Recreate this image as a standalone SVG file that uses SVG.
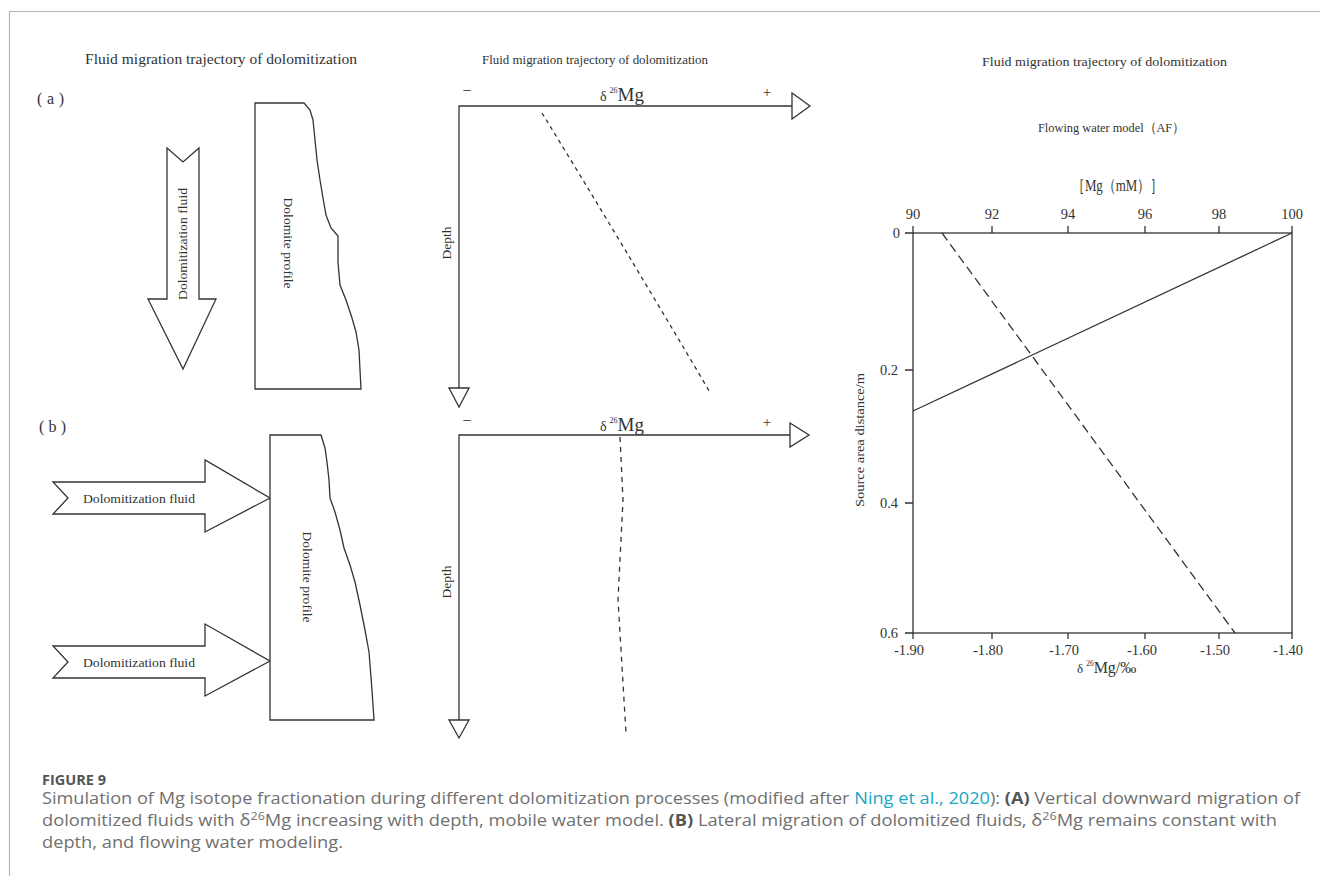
<svg xmlns="http://www.w3.org/2000/svg" width="1320" height="876" viewBox="0 0 1320 876">
<style>
.ln{fill:none;stroke:#333;stroke-width:1.3}
.sh{fill:#fff;stroke:#333;stroke-width:1.3;stroke-linejoin:miter}
.t{font-family:"Liberation Serif","Times New Roman",serif;fill:#333}
.cap{font-family:"Open Sans","Noto Sans",sans-serif;fill:#707070;font-size:16px}
</style>
<rect x="0" y="0" width="1320" height="876" fill="#fff"/>
<path d="M9.5 876 V11.5 H1320" fill="none" stroke="#b5b5b5" stroke-width="1.2"/>

<g id="titles">
<text class="t" x="85" y="64" font-size="15" textLength="272" lengthAdjust="spacingAndGlyphs">Fluid migration trajectory of dolomitization</text>
<text class="t" x="482" y="64" font-size="12.5" textLength="226" lengthAdjust="spacingAndGlyphs">Fluid migration trajectory of dolomitization</text>
<text class="t" x="982" y="66" font-size="13.5" textLength="245" lengthAdjust="spacingAndGlyphs">Fluid migration trajectory of dolomitization</text>
<text class="t" x="37" y="104" font-size="16" textLength="27" lengthAdjust="spacing">(a)</text>
<text class="t" x="39" y="432" font-size="16" textLength="27" lengthAdjust="spacing">(b)</text>
</g>

<g id="arrow-a">
<polygon class="sh" points="167,148 183,162 199,148 199,299 216,299 183,369 148,299 167,299"/>
<text class="t" font-size="13" transform="translate(187,244) rotate(-90)" text-anchor="middle" textLength="112" lengthAdjust="spacingAndGlyphs">Dolomitization fluid</text>
</g>

<g id="profile-a">
<path class="sh" d="M255 103 H304 L310 110 L313 120 L315 140 L317 160 L320 180 L323 198 L326 215 L331 228 L338 236 L338 250 L338 262 L340 285 L346 300 L352 318 L356 332 L359 350 L360 370 L361 389 H255 Z"/>
<text class="t" font-size="13" transform="translate(284,243) rotate(90)" text-anchor="middle" textLength="91" lengthAdjust="spacingAndGlyphs">Dolomite profile</text>
</g>

<g id="arrow-b1">
<polygon class="sh" points="53,482 205,482 205,460 270,498 205,532 205,514 53,514 68,498"/>
<text class="t" x="83" y="503" font-size="13" textLength="112" lengthAdjust="spacingAndGlyphs">Dolomitization fluid</text>
</g>
<g id="arrow-b2">
<polygon class="sh" points="53,646 205,646 205,624 270,661 205,696 205,678 53,678 68,662"/>
<text class="t" x="83" y="667" font-size="13" textLength="112" lengthAdjust="spacingAndGlyphs">Dolomitization fluid</text>
</g>

<g id="profile-b">
<path class="sh" d="M270 435 H321 L325 448 L327 462 L329 480 L330 498 L335 512 L340 530 L344 548 L350 565 L355 582 L360 605 L365 630 L369 652 L372 690 L374 720 H270 Z"/>
<text class="t" font-size="13" transform="translate(303,577) rotate(90)" text-anchor="middle" textLength="91" lengthAdjust="spacingAndGlyphs">Dolomite profile</text>
</g>

<g id="connectors">
<path class="ln" d="M459 388 V106 H792"/>
<polygon class="sh" points="792,93 810,106 792,119"/>
<polygon class="sh" points="449,388 469,388 459,407"/>
<path class="ln" d="M459 720 V435 H790"/>
<polygon class="sh" points="790,423 809,435 790,447"/>
<polygon class="sh" points="449,720 469,720 459,738"/>
<path class="ln" d="M542 113 Q620 240 711 394" stroke-dasharray="4 4"/>
<path class="ln" d="M620 437 L623 500 L618 600 L626 733" stroke-dasharray="5 5"/>
</g>

<g id="middle-labels">
<text class="t" x="467" y="96" font-size="16" text-anchor="middle">−</text>
<text class="t" x="767" y="97" font-size="15" text-anchor="middle">+</text>
<text class="t" x="600" y="101" font-size="14">δ<tspan font-size="8" dx="3" dy="-8">26</tspan><tspan font-size="19" dy="8">Mg</tspan></text>
<text class="t" font-size="13.5" transform="translate(451,243) rotate(-90)" text-anchor="middle">Depth</text>
<text class="t" x="467" y="426" font-size="16" text-anchor="middle">−</text>
<text class="t" x="767" y="427" font-size="15" text-anchor="middle">+</text>
<text class="t" x="600" y="431" font-size="14">δ<tspan font-size="8" dx="3" dy="-8">26</tspan><tspan font-size="19" dy="8">Mg</tspan></text>
<text class="t" font-size="13.5" transform="translate(451,582) rotate(-90)" text-anchor="middle">Depth</text>
</g>

<g id="chart">
<text class="t" x="1038" y="132" font-size="13.5" textLength="147" lengthAdjust="spacingAndGlyphs">Flowing water model（AF）</text>
<text class="t" x="1072" y="191" font-size="17" textLength="91" lengthAdjust="spacingAndGlyphs" font-family="'Liberation Serif','Noto Sans CJK SC',serif">［Mg（mM）］</text>
<rect class="ln" x="913" y="233" width="379" height="400"/>
<path class="ln" d="M913 233 V226 M992 233 V226 M1068 233 V226 M1145 233 V226 M1219 233 V226 M1292 233 V226 M913 633 V639 M992 633 V639 M1068 633 V639 M1145 633 V639 M1219 633 V639 M1292 633 V639 M905 233 H913 M905 370 H913 M905 503 H913 M905 633 H913"/>
<g class="t" font-size="14.5" text-anchor="middle">
<text x="913" y="219">90</text>
<text x="992" y="219">92</text>
<text x="1068" y="219">94</text>
<text x="1145" y="219">96</text>
<text x="1219" y="219">98</text>
<text x="1292" y="219">100</text>
<text x="909" y="655">-1.90</text>
<text x="988" y="655">-1.80</text>
<text x="1064" y="655">-1.70</text>
<text x="1142" y="655">-1.60</text>
<text x="1215" y="655">-1.50</text>
<text x="1288" y="655">-1.40</text>
</g>
<g class="t" font-size="14.5" text-anchor="end">
<text x="900" y="238">0</text>
<text x="898" y="375">0.2</text>
<text x="898" y="508">0.4</text>
<text x="898" y="638">0.6</text>
</g>
<text class="t" font-size="13.5" transform="translate(864,440) rotate(-90)" text-anchor="middle" textLength="134" lengthAdjust="spacingAndGlyphs">Source area distance/m</text>
<text class="t" x="1077" y="673" font-size="13">δ<tspan font-size="7.5" dx="3" dy="-7">26</tspan><tspan font-size="16" dy="7">Mg/‰</tspan></text>
<line class="ln" x1="1292" y1="233" x2="913" y2="411"/>
<line class="ln" x1="942" y1="233" x2="1235" y2="633" stroke-dasharray="9 5"/>
</g>

<g id="caption">
<text x="42" y="785" font-family="'Open Sans','Noto Sans',sans-serif" font-weight="bold" font-size="13.5" fill="#555" textLength="64" lengthAdjust="spacingAndGlyphs">FIGURE 9</text>
<text class="cap" x="42" y="804" textLength="1258" lengthAdjust="spacingAndGlyphs">Simulation of Mg isotope fractionation during different dolomitization processes (modified after <tspan fill="#19a6c4">Ning et al., 2020</tspan>): <tspan font-weight="bold" fill="#555">(A)</tspan> Vertical downward migration of</text>
<text class="cap" x="42" y="826" textLength="1235" lengthAdjust="spacingAndGlyphs">dolomitized fluids with δ<tspan font-size="11" dy="-6">26</tspan><tspan dy="6">Mg increasing with depth, mobile water model. </tspan><tspan font-weight="bold" fill="#555">(B)</tspan> Lateral migration of dolomitized fluids, δ<tspan font-size="11" dy="-6">26</tspan><tspan dy="6">Mg remains constant with</tspan></text>
<text class="cap" x="42" y="848" textLength="301" lengthAdjust="spacingAndGlyphs">depth, and flowing water modeling.</text>
</g>
</svg>
